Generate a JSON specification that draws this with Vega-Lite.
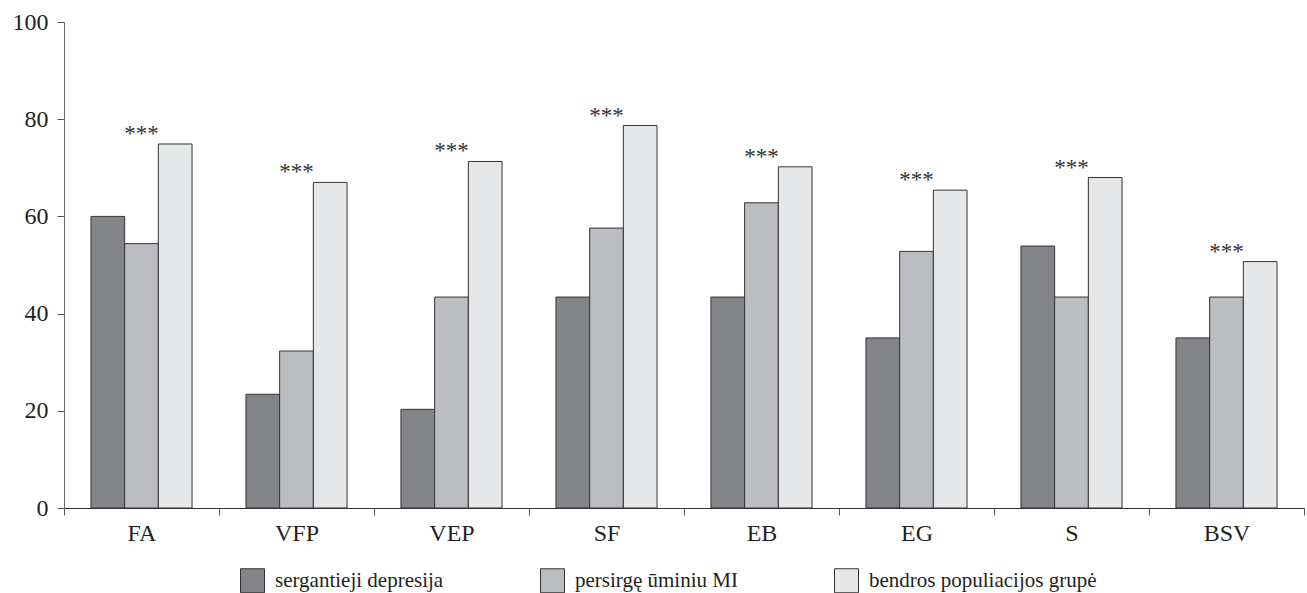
{
  "$schema": "https://vega.github.io/schema/vega-lite/v6.json",
  "width": 1240,
  "height": 486,
  "autosize": {"type": "none"},
  "padding": {"left": 64, "top": 22, "right": 3, "bottom": 85},
  "background": "white",
  "config": {
    "view": {"stroke": null},
    "font": "Liberation Serif",
    "axis": {"labelFont": "Liberation Serif", "labelColor": "#231f20", "grid": false},
    "legend": {"labelFont": "Liberation Serif"}
  },
  "data": {
    "values": [
      {"cat": "FA", "group": "sergantieji depresija", "value": 60.0, "sig": ""},
      {"cat": "FA", "group": "persirgę ūminiu MI", "value": 54.4, "sig": ""},
      {"cat": "FA", "group": "bendros populiacijos grupė", "value": 74.9, "sig": "***"},
      {"cat": "VFP", "group": "sergantieji depresija", "value": 23.4, "sig": ""},
      {"cat": "VFP", "group": "persirgę ūminiu MI", "value": 32.3, "sig": ""},
      {"cat": "VFP", "group": "bendros populiacijos grupė", "value": 67.0, "sig": "***"},
      {"cat": "VEP", "group": "sergantieji depresija", "value": 20.3, "sig": ""},
      {"cat": "VEP", "group": "persirgę ūminiu MI", "value": 43.4, "sig": ""},
      {"cat": "VEP", "group": "bendros populiacijos grupė", "value": 71.3, "sig": "***"},
      {"cat": "SF", "group": "sergantieji depresija", "value": 43.4, "sig": ""},
      {"cat": "SF", "group": "persirgę ūminiu MI", "value": 57.6, "sig": ""},
      {"cat": "SF", "group": "bendros populiacijos grupė", "value": 78.7, "sig": "***"},
      {"cat": "EB", "group": "sergantieji depresija", "value": 43.4, "sig": ""},
      {"cat": "EB", "group": "persirgę ūminiu MI", "value": 62.8, "sig": ""},
      {"cat": "EB", "group": "bendros populiacijos grupė", "value": 70.2, "sig": "***"},
      {"cat": "EG", "group": "sergantieji depresija", "value": 35.0, "sig": ""},
      {"cat": "EG", "group": "persirgę ūminiu MI", "value": 52.8, "sig": ""},
      {"cat": "EG", "group": "bendros populiacijos grupė", "value": 65.4, "sig": "***"},
      {"cat": "S", "group": "sergantieji depresija", "value": 53.9, "sig": ""},
      {"cat": "S", "group": "persirgę ūminiu MI", "value": 43.4, "sig": ""},
      {"cat": "S", "group": "bendros populiacijos grupė", "value": 68.0, "sig": "***"},
      {"cat": "BSV", "group": "sergantieji depresija", "value": 35.0, "sig": ""},
      {"cat": "BSV", "group": "persirgę ūminiu MI", "value": 43.4, "sig": ""},
      {"cat": "BSV", "group": "bendros populiacijos grupė", "value": 50.7, "sig": "***"}
    ]
  },
  "encoding": {
    "x": {
      "field": "cat",
      "type": "nominal",
      "sort": ["FA", "VFP", "VEP", "SF", "EB", "EG", "S", "BSV"],
      "scale": {"paddingInner": 0, "paddingOuter": 0},
      "axis": {
        "title": null,
        "labelAngle": 0,
        "labelFontSize": 24,
        "labelPadding": 6,
        "tickBand": "extent",
        "tickSize": 7,
        "tickColor": "#555",
        "domainColor": "#333",
        "labelColor": "#231f20"
      }
    },
    "y": {
      "field": "value",
      "type": "quantitative",
      "scale": {"domain": [0, 100], "nice": false},
      "axis": {
        "title": null,
        "values": [0, 20, 40, 60, 80, 100],
        "labelFontSize": 24,
        "labelPadding": 9,
        "tickSize": 7,
        "tickColor": "#555",
        "domainColor": "#666",
        "labelBaseline": "middle"
      }
    }
  },
  "layer": [
    {
      "mark": {"type": "bar", "stroke": "#333", "strokeWidth": 1},
      "encoding": {
        "xOffset": {
          "field": "group",
          "type": "nominal",
          "sort": ["sergantieji depresija", "persirgę ūminiu MI", "bendros populiacijos grupė"],
          "scale": {"paddingInner": 0, "paddingOuter": 0.8}
        },
        "color": {
          "field": "group",
          "type": "nominal",
          "scale": {
            "domain": ["sergantieji depresija", "persirgę ūminiu MI", "bendros populiacijos grupė"],
            "range": ["#838488", "#bcbdc0", "#e6e7e8"]
          },
          "legend": {
            "title": null,
            "orient": "none",
            "legendX": 176,
            "legendY": 546,
            "direction": "horizontal",
            "symbolType": "square",
            "symbolSize": 576,
            "symbolStrokeColor": "#333",
            "symbolStrokeWidth": 1,
            "symbolOpacity": 1,
            "labelFont": "Liberation Serif",
            "labelFontSize": 21,
            "labelColor": "#231f20",
            "labelOffset": 10,
            "columnPadding": 94,
            "labelLimit": 400
          }
        }
      }
    },
    {
      "transform": [{"filter": "datum.sig != ''"}],
      "mark": {"type": "text", "font": "Liberation Serif", "fontSize": 23, "color": "#333", "baseline": "alphabetic", "dy": -3},
      "encoding": {
        "text": {"field": "sig"}
      }
    }
  ]
}
